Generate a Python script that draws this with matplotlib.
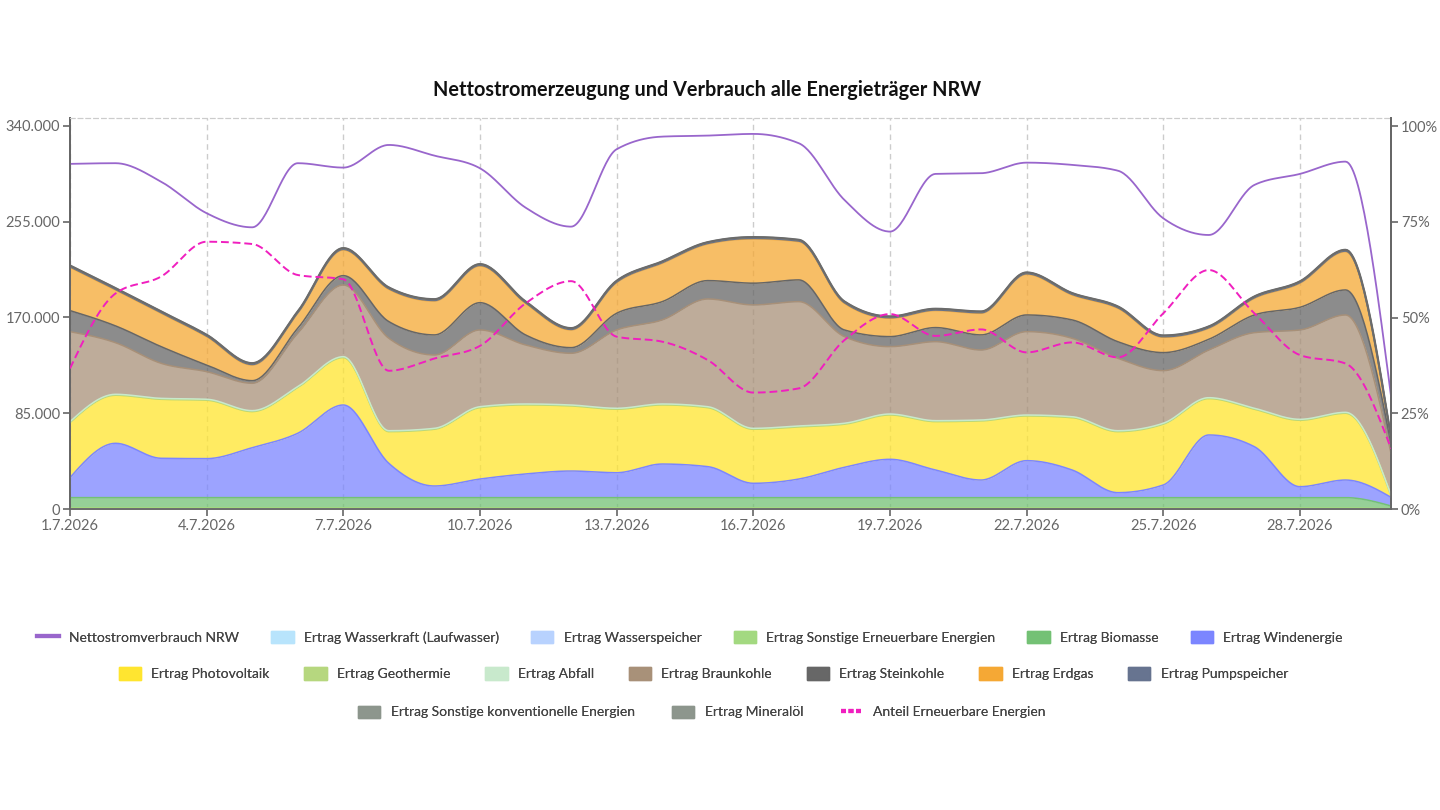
import numpy as np
import matplotlib
matplotlib.use("Agg")
import matplotlib.pyplot as plt
from matplotlib.patches import Patch
from matplotlib.lines import Line2D
from matplotlib.ticker import FuncFormatter

plt.rcParams['font.family'] = ['Lato', 'DejaVu Sans']

days = list(range(1, 31))
date_labels = [f"{d}.7.2026" for d in days]

# values in MWh per day
wasserkraft = [300] * 29 + [100]
wasserspeicher = [100] * 29 + [0]
sonstige_ee = [700] * 29 + [200]
biomasse = [9000] * 29 + [2400]
wind = [17700, 48200, 34900, 34600, 44300, 57100, 82200, 30400, 10300, 16500,
        21000, 23600, 22100, 29800, 27500, 12700, 16500, 26900, 34000, 24500,
        15600, 32800, 24500, 4400, 11200, 55600, 45200, 9700, 15600, 7700]
photovoltaik = [48900, 42700, 52400, 51900, 32100, 40600, 42100, 28200, 50400, 63400,
                61300, 57800, 56400, 52500, 52400, 48000, 46300, 38300, 39400, 43000,
                52500, 39700, 46500, 54200, 54000, 32300, 33300, 59000, 59300, 1700]
geothermie = [0] * 30
abfall = [800] * 29 + [300]
braunkohle = [79900, 45800, 31100, 24500, 24300, 47400, 63600, 82000, 65100, 68100,
              52400, 45900, 69500, 74600, 95600, 109500, 110300, 76900, 59800, 70100,
              62100, 74000, 69600, 64300, 46700, 42300, 67100, 79300, 86400, 37000]
steinkohle = [18700, 14900, 14800, 5900, 2300, 4400, 8300, 14800, 17800, 24200,
              8900, 5000, 14800, 16200, 16300, 19300, 19300, 5900, 8900, 12500,
              13400, 14800, 16300, 14700, 16000, 9500, 15700, 20100, 22200, 8900]
erdgas = [38400, 31900, 29600, 25200, 13900, 13300, 22800, 28700, 30100, 32600,
          28100, 15700, 27200, 34100, 32500, 39300, 34000, 23700, 16300, 15100,
          19200, 36100, 22200, 29700, 13600, 9800, 14800, 21400, 34000, 4400]
pumpspeicher = [500] * 29 + [100]
sonstige_konv = [900] * 29 + [300]
mineraloel = [200] * 29 + [100]

verbrauch = [306300, 306900, 290500, 262500, 250000, 306900, 303000, 323100, 313600, 302400,
             267500, 250600, 319300, 330500, 331400, 332900, 324600, 274300, 246200, 297400,
             298000, 307400, 305400, 300300, 258000, 243200, 287600, 297400, 308300, 100000]
anteil_ee = [36.7, 56.3, 60.7, 69.8, 69.2, 61.1, 60.0, 36.1, 39.3, 42.6,
             53.7, 59.5, 45.0, 43.7, 38.9, 30.4, 31.5, 44.1, 50.9, 45.2,
             46.9, 40.9, 43.5, 39.6, 51.1, 62.4, 51.1, 40.2, 38.0, 15.8]

sources = [
    ("Ertrag Wasserkraft (Laufwasser)", wasserkraft, "#b8e4fc"),
    ("Ertrag Wasserspeicher", wasserspeicher, "#b8d2fe"),
    ("Ertrag Sonstige Erneuerbare Energien", sonstige_ee, "#a3d980"),
    ("Ertrag Biomasse", biomasse, "#73c174"),
    ("Ertrag Windenergie", wind, "#7b85ff"),
    ("Ertrag Photovoltaik", photovoltaik, "#ffe52e"),
    ("Ertrag Geothermie", geothermie, "#b6d77e"),
    ("Ertrag Abfall", abfall, "#c8e9cc"),
    ("Ertrag Braunkohle", braunkohle, "#a89078"),
    ("Ertrag Steinkohle", steinkohle, "#666666"),
    ("Ertrag Erdgas", erdgas, "#f5a833"),
    ("Ertrag Pumpspeicher", pumpspeicher, "#66738f"),
    ("Ertrag Sonstige konventionelle Energien", sonstige_konv, "#8c958c"),
    ("Ertrag Mineralöl", mineraloel, "#8c958c"),
]
purple = "#9966cc"
pink = "#f01fbf"


def monotone(x, y, n=30):
    # monotone cubic (like d3 curveMonotoneX)
    x = np.asarray(x, float)
    y = np.asarray(y, float)
    h = np.diff(x)
    s = np.diff(y) / h
    m = np.zeros_like(y)
    for i in range(1, len(y) - 1):
        if s[i - 1] * s[i] <= 0:
            m[i] = 0
        else:
            p = (s[i - 1] * h[i] + s[i] * h[i - 1]) / (h[i - 1] + h[i])
            m[i] = (np.sign(s[i - 1]) + np.sign(s[i])) * min(abs(s[i - 1]), abs(s[i]), 0.5 * abs(p))
    m[0] = (3 * s[0] - m[1]) / 2
    m[-1] = (3 * s[-1] - m[-2]) / 2
    xs, ys = [], []
    for i in range(len(h)):
        t = np.linspace(0, 1, n, endpoint=(i == len(h) - 1))
        h00 = 2 * t**3 - 3 * t**2 + 1
        h10 = t**3 - 2 * t**2 + t
        h01 = -2 * t**3 + 3 * t**2
        h11 = t**3 - t**2
        xs.append(x[i] + t * h[i])
        ys.append(h00 * y[i] + h10 * h[i] * m[i] + h01 * y[i + 1] + h11 * h[i] * m[i + 1])
    return np.concatenate(xs), np.concatenate(ys)


fig = plt.figure(figsize=(14.4, 8.1), dpi=100)
ax = fig.add_axes([0.0486, 0.3716, 0.9174, 0.4827])
ax2 = ax.twinx()

cum = np.zeros(len(days))
xs, lower = monotone(days, cum)
for name, vals, col in sources:
    cum = cum + np.array(vals)
    xs, upper = monotone(days, cum)
    ax.fill_between(xs, lower, upper, color=col, alpha=0.75, lw=0, zorder=2)
    ax.plot(xs, upper, color=col, lw=1.1, zorder=3)
    lower = upper
# dark outline on top of the stack
ax.plot(xs, upper, color="#6b6b6b", lw=1.6, zorder=3)

xv, yv = monotone(days, verbrauch)
ax.plot(xv, yv, color=purple, lw=1.3, zorder=4)

xa, ya = monotone(days, anteil_ee)
ax2.plot(xa, ya, color=pink, lw=1.4, dashes=(4, 2), zorder=4)

ax.set_xlim(1, 30)
ax.set_ylim(0, 347000)
ax2.set_ylim(0, 102.1)
ax.set_yticks([0, 85000, 170000, 255000, 340000])
ax.yaxis.set_major_formatter(FuncFormatter(lambda v, p: f"{int(v):,}".replace(",", ".")))
ax2.set_yticks([0, 25, 50, 75, 100])
ax2.yaxis.set_major_formatter(FuncFormatter(lambda v, p: f"{int(v)}%"))
tick_days = days[::3][:10]
ax.set_xticks(tick_days)
ax.set_xticklabels([date_labels[d - 1] for d in tick_days])
ax.xaxis.grid(True, color="#cccccc", ls=(0, (4, 3)), lw=1)
ax.set_axisbelow(True)

for a in (ax, ax2):
    a.spines['top'].set_linestyle((0, (4, 3)))
    a.spines['top'].set_color("#cccccc")
    for sp in ('left', 'right', 'bottom'):
        a.spines[sp].set_color("#666666")
        a.spines[sp].set_linewidth(1.3)
    a.tick_params(colors="#666666", labelcolor="#666666", labelsize=10.5, length=5, width=1.2, pad=2)
ax.spines['bottom'].set_color("#aaaaaa")

fig.text(0.491, 0.889, "Nettostromerzeugung und Verbrauch alle Energieträger NRW",
         ha="center", va="center", fontsize=14.3, fontweight="bold", color="#111111")

handles = [Line2D([], [], color=purple, lw=3)]
labels = ["Nettostromverbrauch NRW"]
for name, vals, col in sources:
    handles.append(Patch(facecolor=col, edgecolor=col, alpha=0.9))
    labels.append(name)
handles.append(Line2D([], [], color=pink, lw=3, dashes=(1.2, 0.6)))
labels.append("Anteil Erneuerbare Energien")

rows = [(0, 6, 0.2135, 0.479, 2.3), (6, 13, 0.168, 0.4885, 2.5), (13, 16, 0.121, 0.4875, 2.7)]
for a0, a1, yy, xx, cs in rows:
    leg = fig.legend(handles[a0:a1], labels[a0:a1], loc="center", bbox_to_anchor=(xx, yy),
                     ncol=a1 - a0, frameon=False, fontsize=10, handlelength=1.6, handleheight=1.0,
                     columnspacing=cs, handletextpad=0.75, labelcolor="#444444")
    fig.add_artist(leg)

fig.savefig("out.png", dpi=100)
